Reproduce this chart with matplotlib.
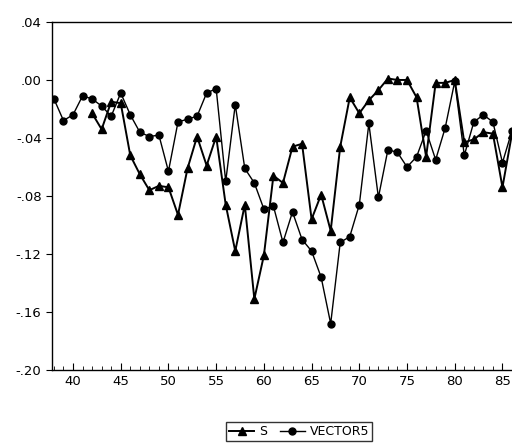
import numpy as np
import matplotlib
matplotlib.use("Agg")
import matplotlib.pyplot as plt
from matplotlib.ticker import FuncFormatter, MultipleLocator

# years (19xx)
years_v = list(range(38, 87))
vector5 = [-0.013, -0.028, -0.024, -0.011, -0.013, -0.018, -0.025, -0.009, -0.024, -0.036,
           -0.039, -0.038, -0.063, -0.029, -0.027, -0.025, -0.009, -0.006, -0.070, -0.017,
           -0.061, -0.071, -0.089, -0.087, -0.112, -0.091, -0.110, -0.118, -0.136, -0.168,
           -0.112, -0.108, -0.086, -0.030, -0.081, -0.048, -0.050, -0.060, -0.053, -0.035,
           -0.055, -0.033, -0.001, -0.052, -0.029, -0.024, -0.029, -0.057, -0.035]

years_s = list(range(42, 87))
s_vals = [-0.023, -0.034, -0.015, -0.016, -0.052, -0.065, -0.076, -0.073, -0.074, -0.093,
          -0.061, -0.039, -0.059, -0.039, -0.086, -0.118, -0.086, -0.151, -0.121, -0.066,
          -0.071, -0.046, -0.044, -0.096, -0.079, -0.104, -0.046, -0.012, -0.023, -0.014,
          -0.007, 0.001, 0.000, 0.000, -0.012, -0.053, -0.002, -0.002, 0.000, -0.043,
          -0.041, -0.036, -0.037, -0.074, -0.037]

fig = plt.figure(figsize=(5.12, 4.48), dpi=100)
ax = fig.add_axes([0.1016, 0.174, 0.8984, 0.777])

ax.plot(years_s, s_vals, color='black', lw=1.4, marker='^', ms=5.5, label='S')
ax.plot(years_v, vector5, color='black', lw=1.0, marker='o', ms=5, label='VECTOR5')

ax.set_xlim(37.8, 86.0)
ax.set_ylim(-0.20, 0.04)
ax.set_yticks(np.arange(-0.20, 0.041, 0.04))

def fmt(v, pos):
    s = '%.2f' % v
    if s == '-0.00':
        s = '0.00'
    return s.replace('0.', '.', 1)

ax.yaxis.set_major_formatter(FuncFormatter(fmt))
ax.xaxis.set_major_locator(MultipleLocator(5))
ax.xaxis.set_minor_locator(MultipleLocator(1))
ax.tick_params(axis='y', direction='out', length=4, labelsize=9.5)
ax.tick_params(axis='x', which='major', direction='in', length=5, labelsize=9.5)
ax.tick_params(axis='x', which='minor', direction='in', length=3)
ax.spines['right'].set_visible(False)
for sp in ax.spines.values():
    sp.set_linewidth(1.0)

fig.legend(loc='center', bbox_to_anchor=(0.584, 0.036), ncol=2, frameon=True,
           fancybox=False, edgecolor='black', fontsize=9, handlelength=2.0,
           borderpad=0.25, columnspacing=1.0, handletextpad=0.4)

fig.savefig('out.png', dpi=100)
